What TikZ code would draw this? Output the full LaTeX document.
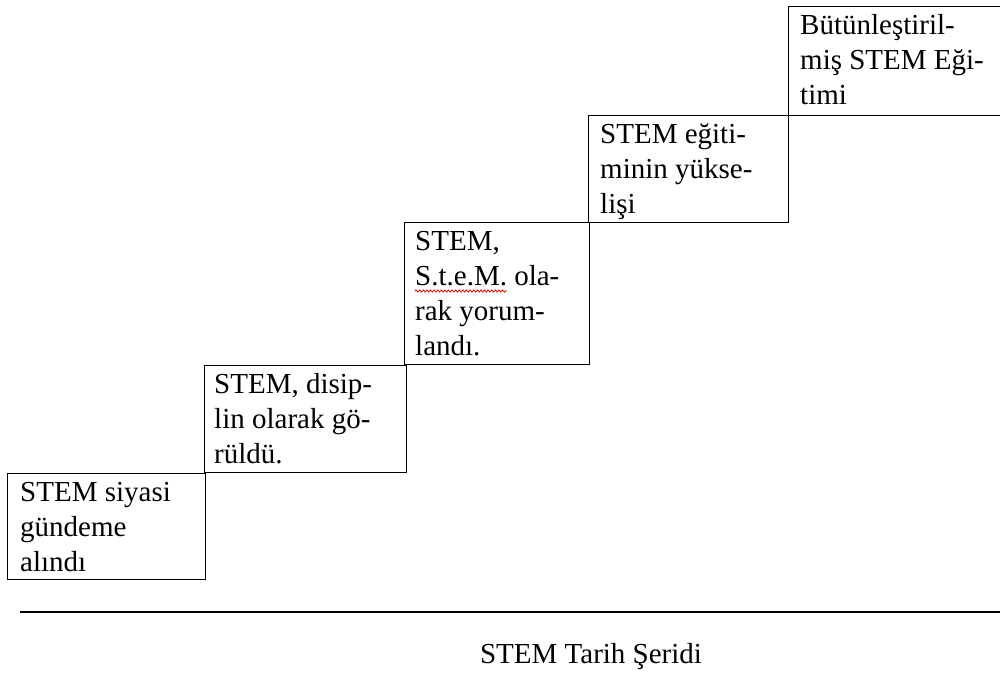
\documentclass[tikz,border=0pt]{standalone}
\usepackage{fontspec}
\setmainfont{Liberation Serif}
\usetikzlibrary{decorations.pathmorphing}

\tikzset{
  stepbox/.style={draw=black, line width=1.4pt, anchor=north west, inner sep=0pt},
  steptext/.style={anchor=north west, inner sep=0pt, align=left,
    font=\fontsize{29}{35}\selectfont},
  axislabel/.style={anchor=base, inner sep=0pt, font=\fontsize{29}{35}\selectfont},
}
% first line of each step sits 28pt below the top edge of its box
\newcommand{\firstline}{\rule{0pt}{28pt}}

\begin{document}
\begin{tikzpicture}[x=1pt,y=-1pt]
\useasboundingbox (0,0) rectangle (1000,672);
\clip (0,0) rectangle (1000,672);

% the five steps of the staircase
\node[stepbox, minimum width=198pt, minimum height=106pt] (b1) at (7,473) {};
\node[stepbox, minimum width=202pt, minimum height=107pt] (b2) at (204,365) {};
\node[stepbox, minimum width=185pt, minimum height=142pt] (b3) at (404,222) {};
\node[stepbox, minimum width=200pt, minimum height=107pt] (b4) at (588,115) {};
\node[stepbox, minimum width=216pt, minimum height=109pt] (b5) at (788,6) {};

\node[steptext] (t1) at ([xshift=13pt]b1.north west)
  {\firstline STEM siyasi\\gündeme\\alındı};
\node[steptext] (t2) at ([xshift=10pt]b2.north west)
  {\firstline STEM, disip-\\lin olarak gö-\\rüldü.};
\node[steptext] (t3) at ([xshift=11pt]b3.north west)
  {\firstline STEM,\\S.t.e.M. ola-\\rak yorum-\\landı.};
\node[steptext] (t4) at ([xshift=12pt]b4.north west)
  {\firstline STEM eğiti-\\minin yükse-\\lişi};
\node[steptext] (t5) at ([xshift=12pt]b5.north west)
  {\firstline Bütünleştiril-\\miş STEM Eği-\\timi};

% spell-check underline below "S.t.e.M."
\coordinate (sq1) at (415,291);
\coordinate (sq2) at (507,291);
\draw[red!85!black, line width=0.8pt, decorate,
  decoration={snake, amplitude=1.1pt, segment length=3.6pt}] (sq1) -- (sq2);

% time line
\coordinate (tl) at (20,612);
\coordinate (tr) at (1002,612);
\draw[line width=1.8pt] (tl) -- (tr);
\node[axislabel] (lbl) at (591,663) {STEM Tarih Şeridi};
\end{tikzpicture}
\end{document}
